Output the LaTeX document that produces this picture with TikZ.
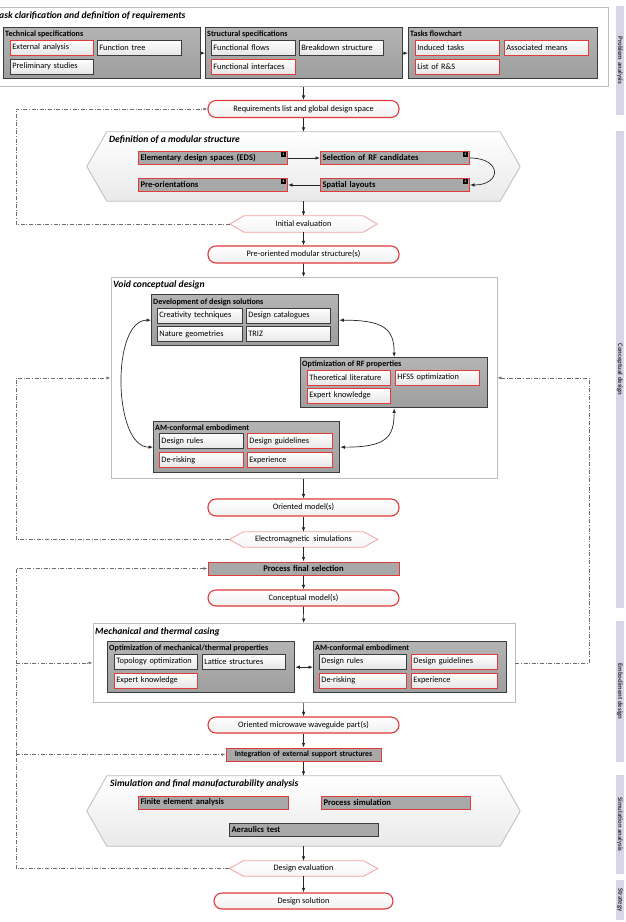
\documentclass[tikz,border=0pt]{standalone}
\usepackage{fontspec}
\setmainfont{Carlito}
\usepackage{xcolor}
\usepackage{tikz}
\usetikzlibrary{positioning,calc,arrows.meta}

\definecolor{redline}{HTML}{E03A3A}
\definecolor{palered}{HTML}{F2A2A2}
\definecolor{darkline}{HTML}{3C3C3C}
\definecolor{outerline}{HTML}{BDBDBD}
\definecolor{grpA}{HTML}{B4B4B4}
\definecolor{grpB}{HTML}{9E9E9E}
\definecolor{dfgray}{HTML}{A8A8A8}
\definecolor{itemB}{HTML}{E6E6E6}
\definecolor{hexB}{HTML}{E9E9E9}
\definecolor{fbgray}{HTML}{6E6E6E}
\definecolor{bandcol}{HTML}{D9D4E7}

\begin{document}
\begin{tikzpicture}[x=1pt,y=-1pt,
    txt/.style={font=\fontsize{8.3}{9}\selectfont},
    outerbox/.style={draw=outerline, line width=0.8pt, fill=white, anchor=north west, inner sep=0pt},
    otitle/.style={font=\fontsize{9.6}{10}\selectfont\bfseries\itshape, anchor=west, inner sep=0pt},
    grp/.style={draw=darkline, line width=1.3pt, top color=grpA, bottom color=grpB, anchor=north west, inner sep=0pt},
    grpT/.style={font=\fontsize{8.1}{9}\selectfont\bfseries, anchor=west, inner sep=0pt},
    itm/.style={txt, draw=darkline, line width=0.8pt, top color=white, bottom color=itemB,
      minimum height=15pt, text width=#1, inner xsep=2pt, inner ysep=0pt, anchor=west, align=left},
    itm/.default=80pt,
    itmr/.style={itm=#1, draw=redline},
    itmr/.default=80pt,
    dfbox/.style={font=\fontsize{8.6}{9}\selectfont\bfseries, draw=redline, line width=1pt, fill=dfgray,
      minimum height=13pt, text width=#1, inner xsep=2pt, inner ysep=0pt, anchor=west, align=left},
    dfbox/.default=145pt,
    tagbox/.style={fill=black, text=white, minimum size=5pt, inner sep=0pt, font=\fontsize{3.5}{4}\selectfont\bfseries},
    capsule/.style={txt, draw=redline, line width=1.1pt, rounded corners=8pt, top color=white, bottom color=gray!12,
      minimum width=191pt, minimum height=17pt, inner sep=0pt},
    hexb/.style={draw=outerline, line width=0.8pt, top color=white, bottom color=hexB},
    hexs/.style={draw=palered, line width=0.8pt, top color=white, bottom color=gray!8},
    arr/.style={draw=black!85, line width=0.7pt, -{Latex[length=4.5pt,width=3.5pt]}},
    arrb/.style={draw=black!85, line width=0.7pt, {Latex[length=4.5pt,width=3.5pt]}-{Latex[length=4.5pt,width=3.5pt]}},
    fb/.style={draw=fbgray, line width=0.6pt, dash pattern=on 4pt off 1.6pt on 1pt off 1.6pt},
    fbarr/.style={fb, -{Latex[length=4pt,width=3pt]}},
    band/.style={fill=bandcol, rotate=-90, minimum height=8pt, inner sep=0pt, text=black!80,
      font=\fontsize{6.8}{7}\selectfont\bfseries}]

\fill[white] (0,0) rectangle (625,922);
\useasboundingbox (0,0) rectangle (625,922);

% right hand phase bands
\node[band, minimum width=109pt] (bpa) at (620,60.5) {Problem analysis};
\node[band, minimum width=477pt] (bcd) at (620,369.5) {Conceptual design};
\node[band, minimum width=141pt] (bed) at (620,691.5) {Embodiment design};
\node[band, minimum width=99pt] (bsa) at (620,824.5) {Simulation analysis};
\node[band, minimum width=40pt] (bst) at (620,900) {Strategy};

% problem analysis
\node[outerbox, minimum width=609pt, minimum height=79pt] (pbox) at (-1,7) {};
\node[otitle] (pboxT) at (-5,16) {Task clarification and definition of requirements};

\node[grp, minimum width=197pt, minimum height=51pt] (ts) at (3,27) {};
\node[grpT] (tsT) at (5,34) {Technical specifications};
\node[itmr=79pt] (ext) at (10,47.5) {External analysis};
\node[itm] (ftree) at (97,47.5) {Function tree};
\node[itm=79pt] (prel) at (10,66.5) {Preliminary studies};

\node[grp, minimum width=197pt, minimum height=51pt] (ss) at (205,27) {};
\node[grpT] (ssT) at (207,34) {Structural specifications};
\node[itm] (fflows) at (211,47.5) {Functional flows};
\node[itm] (bdown) at (299,47.5) {Breakdown structure};
\node[itmr] (fint) at (211,66.5) {Functional interfaces};

\node[grp, minimum width=189pt, minimum height=51pt] (tf) at (408,27) {};
\node[grpT] (tfT) at (410,34) {Tasks flowchart};
\node[itmr] (ind) at (415,47.5) {Induced tasks};
\node[itmr] (assoc) at (504,47.5) {Associated means};
\node[itmr] (lrs) at (415,66.5) {List of R\&S};

\draw[arr] (ts) -- (ss);
\draw[arr] (ss) -- (tf);

\node[capsule] (req) at (303.5,109) {Requirements list and global design space};
\draw[arr] (pbox.south -| req) -- (req);

% modular structure
\node[minimum width=433pt, minimum height=69pt, inner sep=0pt] (defhex) at (303.5,166.5) {};
\draw[hexb] (defhex.west) -- ($(defhex.north west)+(20,0)$) -- ($(defhex.north east)+(-20,0)$)
  -- (defhex.east) -- ($(defhex.south east)+(-20,0)$) -- ($(defhex.south west)+(20,0)$) -- cycle;
\node[otitle] (defhexT) at (109,140) {Definition of a modular structure};

\node[dfbox] (eds) at (138,158) {Elementary design spaces (EDS)};
\node[dfbox] (sel) at (320,158) {Selection of RF candidates};
\node[dfbox] (pre) at (138,185) {Pre-orientations};
\node[dfbox] (spat) at (320,185) {Spatial layouts};
\node[tagbox] (tg1) at (283.5,154.5) {1};
\node[tagbox] (tg2) at (465.5,154.5) {2};
\node[tagbox] (tg3) at (465.5,181.5) {3};
\node[tagbox] (tg4) at (283.5,181.5) {4};

\draw[arr] (eds) -- (sel);
\draw[arr] (sel.east) .. controls +(32,0) and +(32,0) .. (spat.east);
\draw[arr] (spat) -- (pre);
\draw[arr] (req) -- (defhex);

\node[minimum width=147pt, minimum height=16pt, inner sep=0pt] (ieval) at (303.5,224) {};
\draw[hexs] (ieval.west) -- ($(ieval.north west)+(14,0)$) -- ($(ieval.north east)+(-14,0)$)
  -- (ieval.east) -- ($(ieval.south east)+(-14,0)$) -- ($(ieval.south west)+(14,0)$) -- cycle;
\node[txt] (ievalT) at (ieval) {Initial evaluation};
\draw[arr] (defhex) -- (ieval);

\node[capsule] (preor) at (303.5,254.5) {Pre-oriented modular structure(s)};
\draw[arr] (ieval) -- (preor);

% void conceptual design
\node[outerbox, minimum width=386pt, minimum height=201pt] (voidb) at (110.5,277) {};
\node[otitle] (voidT) at (113,285) {Void conceptual design};
\draw[arr] (preor) -- (voidb);

\node[grp, minimum width=187pt, minimum height=51pt] (dev) at (151,294) {};
\node[grpT] (devT) at (153,302) {Development of design solutions};
\node[itm=81pt] (crea) at (157,315.5) {Creativity techniques};
\node[itm] (dcat) at (246,315.5) {Design catalogues};
\node[itm=81pt] (nat) at (157,334) {Nature geometries};
\node[itm] (triz) at (246,334) {TRIZ};

\node[grp, minimum width=187pt, minimum height=50pt] (optrf) at (300,357) {};
\node[grpT] (optrfT) at (302,364) {Optimization of RF properties};
\node[itmr=79pt] (theo) at (307,377.5) {Theoretical literature};
\node[itmr] (hfss) at (395,377.5) {HFSS optimization};
\node[itmr=79pt] (expk) at (307,395.5) {Expert knowledge};

\node[grp, minimum width=186pt, minimum height=51pt] (amv) at (153,421) {};
\node[grpT] (amvT) at (155,428) {AM-conformal embodiment};
\node[itm] (drul) at (159,441) {Design rules};
\node[itmr=81pt] (dgui) at (247,441) {Design guidelines};
\node[itmr] (drisk) at (159,460) {De-risking};
\node[itmr=81pt] (expr) at (247,460) {Experience};

\draw[arrb] (dev.west) .. controls +(-40,0) and +(-40,0) .. (amv.west);
\draw[arrb] (dev.east) .. controls +(45,0) and +(0,-28) .. (optrf.north);
\draw[arrb] (optrf.south) .. controls +(0,30) and +(45,0) .. (amv.east);

\node[capsule] (omod) at (303.5,507.5) {Oriented model(s)};
\draw[arr] (voidb) -- (omod);

\node[minimum width=148pt, minimum height=15pt, inner sep=0pt] (emsim) at (303.5,539.5) {};
\draw[hexs] (emsim.west) -- ($(emsim.north west)+(14,0)$) -- ($(emsim.north east)+(-14,0)$)
  -- (emsim.east) -- ($(emsim.south east)+(-14,0)$) -- ($(emsim.south west)+(14,0)$) -- cycle;
\node[txt] (emsimT) at (emsim) {Electromagnetic\ \ simulations};
\draw[arr] (omod) -- (emsim);

\node[dfbox=187pt, anchor=center, align=center] (pfs) at (303.5,568.5) {Process final selection};
\draw[arr] (emsim) -- (pfs);

\node[capsule, minimum height=16pt] (cmod) at (303.5,598) {Conceptual model(s)};
\draw[arr] (pfs) -- (cmod);

% mechanical and thermal casing
\node[outerbox, minimum width=422pt, minimum height=79pt] (mech) at (92.5,623) {};
\node[otitle] (mechT) at (95,632) {Mechanical and thermal casing};
\draw[arr] (cmod) -- (mech);

\node[grp, minimum width=187pt, minimum height=51pt] (optm) at (107,641) {};
\node[grpT] (optmT) at (109,648) {Optimization of mechanical/thermal properties};
\node[itm=79pt] (topo) at (114,661.5) {Topology optimization};
\node[itm=79pt] (latt) at (202,661.5) {Lattice structures};
\node[itmr=79pt] (expk2) at (114,680.5) {Expert knowledge};

\node[grp, minimum width=193pt, minimum height=51pt] (ame) at (313,641) {};
\node[grpT] (ameT) at (315,648) {AM-conformal embodiment};
\node[itm=83pt] (drul2) at (319,661.5) {Design rules};
\node[itmr=82pt] (dgui2) at (411,661.5) {Design guidelines};
\node[itmr=83pt] (drisk2) at (319,680.5) {De-risking};
\node[itmr=82pt] (expr2) at (411,680.5) {Experience};

\draw[arrb] (optm) -- (ame);

\node[capsule, minimum height=16pt] (owg) at (303.5,725) {Oriented microwave waveguide part(s)};
\draw[arr] (mech) -- (owg);

\node[dfbox=151pt, anchor=center, align=center, font=\fontsize{7.8}{8}\selectfont\bfseries] (integ) at (303.5,754.5) {Integration of external support structures};
\draw[arr] (owg) -- (integ);

% simulation
\node[minimum width=433pt, minimum height=70pt, inner sep=0pt] (simhex) at (303.5,811) {};
\draw[hexb] (simhex.west) -- ($(simhex.north west)+(20,0)$) -- ($(simhex.north east)+(-20,0)$)
  -- (simhex.east) -- ($(simhex.south east)+(-20,0)$) -- ($(simhex.south west)+(20,0)$) -- cycle;
\node[otitle] (simT) at (110,784) {Simulation and final manufacturability analysis};
\draw[arr] (integ) -- (simhex);

\node[dfbox=146pt] (fea) at (138,802.5) {Finite element analysis};
\node[dfbox] (psim) at (321,802.5) {Process simulation};
\node[dfbox, draw=darkline] (aer) at (229,829.5) {Aeraulics test};

\node[minimum width=148pt, minimum height=15pt, inner sep=0pt] (deval) at (303.5,868.5) {};
\draw[hexs] (deval.west) -- ($(deval.north west)+(14,0)$) -- ($(deval.north east)+(-14,0)$)
  -- (deval.east) -- ($(deval.south east)+(-14,0)$) -- ($(deval.south west)+(14,0)$) -- cycle;
\node[txt] (devalT) at (deval) {Design evaluation};
\draw[arr] (simhex) -- (deval);

\node[capsule, minimum width=179pt, minimum height=16pt] (dsol) at (303.5,901) {Design solution};
\draw[arr] (deval) -- (dsol);

% feedback loops
\coordinate (lx) at (16,0);
\coordinate (rx) at (589,0);
\draw[fbarr] (ieval.west) -- (ieval.west -| lx) -- (req.west -| lx) -- (req.west);
\draw[fbarr] (emsim.west) -- (emsim.west -| lx) -- (voidb.west -| lx) -- (voidb.west);
\draw[fbarr] (deval.west) -- (deval.west -| lx) -- (pfs.west -| lx) -- (pfs.west);
\draw[fbarr] (mech.west -| lx) -- (mech.west);
\draw[fbarr] (integ.west -| lx) -- (integ.west);
\draw[fbarr] (mech.east) -- (mech.east -| rx) -- (voidb.east -| rx) -- (voidb.east);
\end{tikzpicture}
\end{document}
